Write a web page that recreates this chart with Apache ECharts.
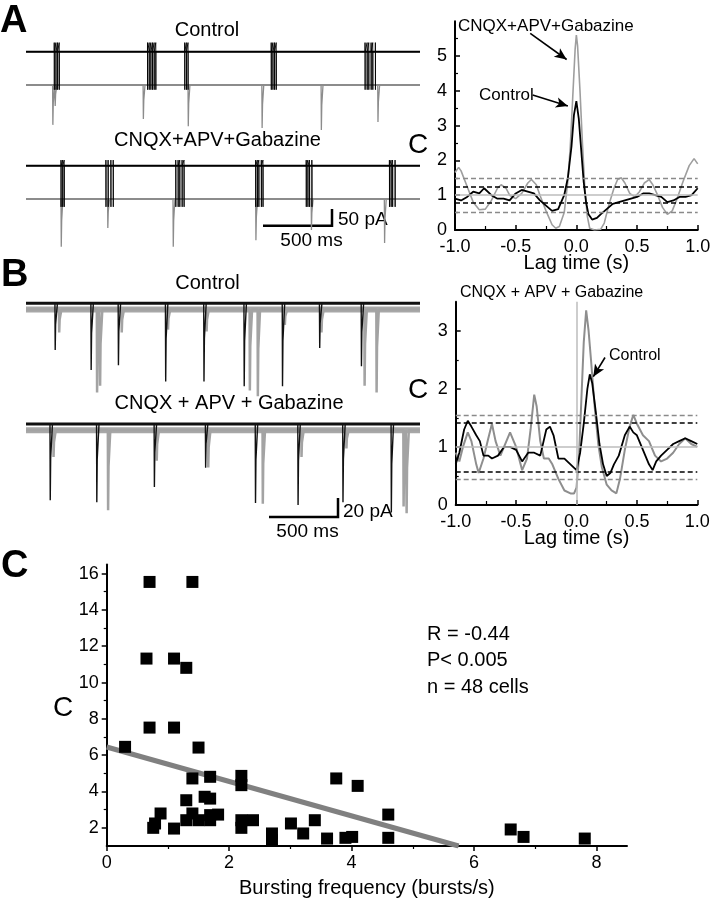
<!DOCTYPE html>
<html><head><meta charset="utf-8">
<script src="https://cdn.jsdelivr.net/npm/echarts@6/dist/echarts.min.js"></script>
<style>html,body{margin:0;padding:0;background:#fff}#c{width:711px;height:900px}</style>
</head><body><div id="c"></div>
<script>
// ================= DATA =================
// Panel A/B raw traces: times in ms, amplitudes in pA
const traceDurationMs = 2860;
// A, Control: black (spikes) and gray (synaptic currents)
const aCtrlSpikeT = [205,217,229,241, 882,894,906,918,930,942, 1152,1164,1176, 1780,1792,1804,1816, 2461,2476,2488,2505,2517,2536];
const aCtrlPscT = [193, 210, 850, 1176, 1712, 2142, 2553];
const aCtrlPscA = [127, 67, 108, 131, 137, 143, 118];
// A, CNQX+APV+Gabazine
const aDrugSpikeT = [254,266,277, 580,596,616,633, 1087,1104,1116,1133,1147, 1667,1679,1690,1708,1720, 2034,2046,2058,2075, 2638,2650,2661,2679];
const aDrugPscT = [254, 592, 1067, 1667, 2070, 2601];
const aDrugPscA = [152, 92, 152, 131, 99, 140];
const aBlackOffset = 106;      // pA offset of black trace
const aSpikeUp = [29, 18];     // spike overshoot (ctrl, drug)
const aSpikeDown = [-121, -131];
// B, Control
const bCtrlBlackT = [210, 471, 669, 1012, 1290, 1582, 1860, 2130, 2433];
const bCtrlBlackA = [49, 70, 65, 82, 82, 87, 87, 47, 66];
const bCtrlGrayT = [239, 514, 536, 693, 1029, 1309, 1623, 1681, 1877, 2143, 2456, 2543];
const bCtrlGrayA = [24, 87, 80, 24, 21, 23, 85, 91, 16, 24, 80, 87];
// B, CNQX + APV + Gabazine
const bDrugBlackT = [174, 512, 930, 1302, 1664, 1973, 2299, 2650];
const bDrugBlackA = [80, 82, 66, 46, 83, 85, 82, 93];
const bDrugGrayT = [198, 594, 947, 1321, 1717, 1998, 2324, 2739, 2761];
const bDrugGrayA = [28, 84, 32, 39, 77, 28, 19, 80, 87];
const bGrayOffset = -6.6;

// Cross-correlation, panel A
const lagAGabT = [-1.00,-0.97,-0.95,-0.90,-0.85,-0.80,-0.75,-0.70,-0.65,-0.62,-0.58,-0.55,-0.50,-0.45,-0.40,-0.37,-0.33,-0.30,-0.25,-0.20,-0.17,-0.14,-0.10,-0.07,-0.05,-0.03,-0.01,0.00,0.01,0.03,0.05,0.07,0.09,0.11,0.15,0.20,0.23,0.27,0.31,0.34,0.37,0.40,0.44,0.48,0.52,0.56,0.60,0.63,0.67,0.71,0.75,0.79,0.83,0.88,0.93,0.97,1.00];
const lagAGabC = [1.65,1.80,1.70,1.25,0.80,0.58,0.60,0.85,1.20,1.30,1.20,1.00,0.90,1.05,1.35,1.45,1.30,1.00,0.55,0.15,0.05,0.10,0.50,1.40,2.40,3.80,5.20,5.60,5.30,4.00,2.50,1.20,0.40,0.05,0.00,0.02,0.20,0.75,1.20,1.45,1.50,1.35,1.05,0.95,1.10,1.35,1.45,1.30,1.00,0.65,0.45,0.55,0.90,1.40,1.85,2.05,1.90];
const lagACtrlT = [-1.00,-0.95,-0.90,-0.85,-0.80,-0.76,-0.70,-0.65,-0.60,-0.55,-0.50,-0.45,-0.40,-0.35,-0.30,-0.25,-0.20,-0.15,-0.10,-0.07,-0.04,-0.02,0.00,0.02,0.04,0.06,0.08,0.10,0.13,0.17,0.20,0.25,0.30,0.35,0.40,0.45,0.50,0.55,0.60,0.65,0.70,0.75,0.80,0.85,0.90,0.95,1.00];
const lagACtrlC = [0.90,0.85,0.95,1.10,1.05,1.20,1.00,0.90,0.90,0.85,1.05,1.15,1.10,1.05,0.85,0.70,0.55,0.60,1.00,1.50,2.40,3.30,3.70,3.20,2.30,1.40,0.80,0.45,0.30,0.35,0.45,0.60,0.75,0.80,0.85,0.90,0.95,1.05,1.05,1.00,0.95,0.80,0.85,0.95,0.95,1.00,1.20];
const lagAOuter = [0.52, 1.48];
const lagAInner = [0.77, 1.24];
// Cross-correlation, panel B
const lagBGabT = [-1.00,-0.97,-0.94,-0.90,-0.87,-0.83,-0.81,-0.77,-0.73,-0.70,-0.67,-0.63,-0.60,-0.55,-0.50,-0.45,-0.41,-0.38,-0.35,-0.33,-0.30,-0.27,-0.23,-0.20,-0.15,-0.10,-0.05,-0.02,0.00,0.02,0.04,0.06,0.08,0.10,0.12,0.15,0.18,0.21,0.25,0.29,0.33,0.36,0.40,0.44,0.47,0.50,0.55,0.60,0.65,0.70,0.75,0.80,0.85,0.90,0.95,1.00];
const lagBGabC = [0.90,0.75,1.00,1.25,1.10,0.70,0.55,0.80,1.15,1.40,1.10,0.85,1.00,1.25,1.00,0.60,0.80,1.30,1.90,1.70,1.10,0.80,0.80,0.70,0.45,0.25,0.20,0.20,0.30,0.80,1.80,2.80,3.35,3.00,2.50,1.70,1.05,0.65,0.35,0.25,0.20,0.45,0.95,1.35,1.55,1.40,1.20,1.10,0.85,0.75,0.80,0.90,1.05,1.15,1.05,1.00];
const lagBCtrlT = [-1.00,-0.97,-0.93,-0.90,-0.87,-0.83,-0.80,-0.77,-0.73,-0.70,-0.65,-0.60,-0.55,-0.50,-0.45,-0.40,-0.35,-0.30,-0.25,-0.22,-0.19,-0.15,-0.10,-0.05,0.00,0.03,0.06,0.09,0.11,0.13,0.16,0.19,0.22,0.25,0.28,0.31,0.35,0.40,0.44,0.47,0.50,0.55,0.60,0.63,0.66,0.70,0.75,0.80,0.85,0.90,0.95,1.00];
const lagBCtrlC = [0.70,0.90,1.30,1.45,1.35,1.20,1.10,0.85,0.85,0.80,0.85,1.00,1.00,0.95,0.75,0.90,0.90,0.85,1.30,1.35,1.20,0.80,0.80,0.70,0.60,0.90,1.40,2.00,2.25,2.10,1.60,1.05,0.70,0.50,0.55,0.70,0.85,1.20,1.35,1.25,1.20,0.95,0.70,0.60,0.75,0.85,0.95,1.05,1.10,1.15,1.10,1.05];
const lagBOuter = [0.45, 1.55];
const lagBInner = [0.57, 1.42];
const lagAYTicks = [0, 1, 2, 3, 4, 5];
const lagBYTicks = [0, 1, 2, 3];

// Panel C scatter
const cFreq = [0.30,0.70,1.40,0.65,1.10,1.30,0.70,1.10,1.50,1.40,1.69,2.20,2.20,1.30,1.60,1.69,0.88,0.79,0.76,1.10,1.30,1.40,1.50,1.69,1.69,1.82,2.20,2.20,2.39,2.70,2.70,3.01,3.21,3.40,3.60,3.75,3.90,4.01,4.10,4.60,4.60,6.60,6.81,7.81];
const cCorr = [6.46,15.54,15.54,11.32,11.32,10.81,7.52,7.52,6.42,4.72,4.81,4.86,4.35,3.52,3.71,3.61,2.79,2.24,2.00,1.96,2.42,2.79,2.42,2.70,2.42,2.73,2.42,2.00,2.42,1.69,1.32,2.24,1.69,2.42,1.41,4.72,1.45,1.50,4.31,2.73,1.45,1.91,1.50,1.41];
const fitX = [0, 5.75];
const fitY = [6.45, 1.0];
const cXTicks = [0, 2, 4, 6, 8];
const cXMinor = [1, 3, 5, 7];
const cYTicks = [2, 4, 6, 8, 10, 12, 14, 16];
const cYMinor = [3, 5, 7, 9, 11, 13, 15];

// ================= BUILD =================
const FONT = "'Liberation Sans', Arial, sans-serif";
function zip(a, b) { return a.map((v, i) => [v, b[i]]); }
function flat(base) { return [[0, base], [traceDurationMs, base]]; }
function spikeTrace(base, times, up, down) {
  const d = [[0, base]];
  times.forEach(t => { d.push([t - 0.3, base], [t, base + up], [t + 0.6, base + down], [t + 1, base]); });
  d.push([traceDurationMs, base]);
  return d;
}
function pscTrace(base, times, amps, tail) {
  const d = [[0, base]];
  times.forEach((t, i) => {
    d.push([t, base], [t + 2, base - amps[i]], [t + 5, base - amps[i] * 0.45], [t + tail, base]);
  });
  d.push([traceDurationMs, base]);
  return d;
}
function half(arr) { const r = []; for (let i = 0; i < arr.length - 1; i++) r.push((arr[i] + arr[i + 1]) / 2); return r; }

const hidden = { show: false };
const traceGrids = [
  { left: 26, width: 394, top: 30, height: 110 },
  { left: 26, width: 394, top: 144, height: 110 },
  { left: 26, width: 394, top: 290, height: 115 },
  { left: 26, width: 394, top: 410, height: 115 }
];
const grids = traceGrids.concat([
  { left: 455, width: 242.7, top: 21.2, height: 208.8 },
  { left: 455.7, width: 241.6, top: 301.7, height: 203.3 },
  { left: 106.7, width: 520.3, top: 564.5, height: 281.5 }
]).map(g => Object.assign({ outerBoundsMode: 'none', containLabel: false }, g));
const traceY = [[-175.2, 175.2], [-175.2, 175.2], [-106.8, 14], [-106, 14.7]];

const axLine = { show: true, onZero: false, lineStyle: { color: '#000', width: 2 } };
const lbl = { color: '#000', fontSize: 18, fontFamily: FONT };

const xAxes = [0, 1, 2, 3].map(i => ({ type: 'value', gridIndex: i, min: 0, max: traceDurationMs, show: false }));
const yAxes = [0, 1, 2, 3].map(i => ({ type: 'value', gridIndex: i, min: traceY[i][0], max: traceY[i][1], show: false }));

function lagX(g) {
  return { type: 'value', gridIndex: g, min: -1, max: 1, interval: 0.5, position: 'bottom',
    axisLine: axLine, splitLine: hidden,
    axisTick: { show: true, inside: true, length: 5, lineStyle: { color: '#000', width: 1.5 } },
    minorTick: { show: true, splitNumber: 2, length: 4, lineStyle: { color: '#000', width: 1.2 } },
    axisLabel: Object.assign({ margin: 8, formatter: v => v.toFixed(1) }, lbl),
    name: 'Lag time (s)', nameLocation: 'middle', nameGap: 23, nameMoveOverlap: false,
    nameTextStyle: { color: '#000', fontSize: 20, fontFamily: FONT } };
}
function lagY(g, max, ticks) {
  const minor = half(ticks.concat([ticks[ticks.length - 1] + 1])).filter(v => v < max);
  return [
    { type: 'value', gridIndex: g, min: 0, max: max, position: 'left', axisLine: axLine, splitLine: hidden,
      axisTick: { show: true, inside: true, length: 5, customValues: ticks, lineStyle: { color: '#000', width: 1.5 } },
      axisLabel: Object.assign({ margin: 8, customValues: ticks }, lbl) },
    { type: 'value', gridIndex: g, min: 0, max: max, position: 'left', axisLine: { show: false, onZero: false }, splitLine: hidden,
      axisTick: { show: true, inside: true, length: 3, customValues: minor, lineStyle: { color: '#000', width: 1.2 } },
      axisLabel: { show: false } }
  ];
}
xAxes.push(lagX(4), lagX(5));
yAxes.push(...lagY(4, 6, lagAYTicks), ...lagY(5, 3.5, lagBYTicks));
// Panel C axes
xAxes.push(
  { type: 'value', gridIndex: 6, min: 0, max: 8.5, position: 'bottom', axisLine: axLine, splitLine: hidden,
    axisTick: { show: true, length: 5, customValues: cXTicks, lineStyle: { color: '#000', width: 1.5 } },
    axisLabel: Object.assign({ margin: 8, customValues: cXTicks }, lbl),
    name: 'Bursting frequency (bursts/s)', nameLocation: 'middle', nameGap: 32, nameMoveOverlap: false,
    nameTextStyle: { color: '#000', fontSize: 20, fontFamily: FONT } },
  { type: 'value', gridIndex: 6, min: 0, max: 8.5, position: 'bottom', axisLine: { show: false, onZero: false }, splitLine: hidden,
    axisTick: { show: true, length: 3, customValues: cXMinor, lineStyle: { color: '#000', width: 1.2 } },
    axisLabel: { show: false } }
);
yAxes.push(
  { type: 'value', gridIndex: 6, min: 1, max: 16.5, position: 'left', axisLine: axLine, splitLine: hidden,
    axisTick: { show: true, length: 5, customValues: cYTicks, lineStyle: { color: '#000', width: 1.5 } },
    axisLabel: Object.assign({ margin: 8, customValues: cYTicks }, lbl) },
  { type: 'value', gridIndex: 6, min: 1, max: 16.5, position: 'left', axisLine: { show: false, onZero: false }, splitLine: hidden,
    axisTick: { show: true, length: 3, customValues: cYMinor, lineStyle: { color: '#000', width: 1.2 } },
    axisLabel: { show: false } }
);
// yAxis indices: 0-3 traces, 4 lagA, 5 lagA minor, 6 lagB, 7 lagB minor, 8 C, 9 C minor

function line(xi, yi, data, color, width, extra) {
  return Object.assign({ type: 'line', xAxisIndex: xi, yAxisIndex: yi, data: data, showSymbol: false, symbol: 'none',
    lineStyle: { color: color, width: width }, itemStyle: { color: color }, silent: true }, extra || {});
}
function refLines(outer, inner, vertical) {
  const d = [];
  outer.forEach(v => d.push({ yAxis: v, lineStyle: { color: '#8a8a8a', type: [5, 3], width: 1.3 } }));
  inner.forEach(v => d.push({ yAxis: v, lineStyle: { color: '#000', type: [5, 3], width: 1.5 } }));
  d.push({ yAxis: 1, lineStyle: { color: '#bdbdbd', type: 'solid', width: 1.5 } });
  if (vertical) d.push({ xAxis: 0, lineStyle: { color: '#bdbdbd', type: 'solid', width: 1.5 } });
  return { symbol: 'none', silent: true, label: { show: false }, data: d };
}
function arrow(p1, p2) { return [{ coord: p1 }, { coord: p2 }]; }
const arrowML = (list) => ({ symbol: ['none', 'arrow'], symbolSize: [8, 12], silent: true, label: { show: false },
  lineStyle: { color: '#000', width: 1.6, type: 'solid' }, data: list });

const series = [
  // A traces
  line(0, 0, flat(0), '#8c8c8c', 2),
  line(0, 0, pscTrace(0, aCtrlPscT, aCtrlPscA, 14), '#8c8c8c', 1.3),
  line(0, 0, flat(aBlackOffset), '#000', 2),
  line(0, 0, spikeTrace(aBlackOffset, aCtrlSpikeT, aSpikeUp[0], aSpikeDown[0]), '#000', 0.9),
  line(1, 1, flat(0), '#8c8c8c', 2),
  line(1, 1, pscTrace(0, aDrugPscT, aDrugPscA, 14), '#8c8c8c', 1.3),
  line(1, 1, flat(aBlackOffset), '#000', 2),
  line(1, 1, spikeTrace(aBlackOffset, aDrugSpikeT, aSpikeUp[1], aSpikeDown[1]), '#000', 0.9),
  // B traces
  line(2, 2, flat(bGrayOffset), '#a8a8a8', 6),
  line(2, 2, pscTrace(bGrayOffset, bCtrlGrayT, bCtrlGrayA, 18), '#a3a3a3', 2.5),
  line(2, 2, flat(0), '#111', 3),
  line(2, 2, pscTrace(0, bCtrlBlackT, bCtrlBlackA, 18), '#111', 1.4),
  line(3, 3, flat(bGrayOffset), '#a8a8a8', 6),
  line(3, 3, pscTrace(bGrayOffset, bDrugGrayT, bDrugGrayA, 18), '#a3a3a3', 2.5),
  line(3, 3, flat(0), '#111', 3),
  line(3, 3, pscTrace(0, bDrugBlackT, bDrugBlackA, 18), '#111', 1.4),
  // Lag A
  line(4, 4, zip(lagAGabT, lagAGabC), '#9e9e9e', 1.6, { markLine: refLines(lagAOuter, lagAInner, false), z: 2 }),
  line(4, 4, zip(lagACtrlT, lagACtrlC), '#000', 1.8, { z: 3,
    markLine: arrowML([arrow([-0.38, 5.65], [-0.08, 4.9]), arrow([-0.36, 3.88], [-0.07, 3.56])]) }),
  // Lag B
  line(5, 6, zip(lagBGabT, lagBGabC), '#8e8e8e', 2, { markLine: refLines(lagBOuter, lagBInner, true), z: 2 }),
  line(5, 6, zip(lagBCtrlT, lagBCtrlC), '#000', 1.8, { z: 3,
    markLine: arrowML([arrow([-0.385, 3.53], [0.048, 3.2]), arrow([0.236, 2.54], [0.139, 2.21])]) }),
  // Panel C
  line(6, 8, zip(fitX, fitY), '#808080', 5, { z: 2 }),
  { type: 'scatter', xAxisIndex: 6, yAxisIndex: 8, data: zip(cFreq, cCorr), symbol: 'rect', symbolSize: 12,
    itemStyle: { color: '#000', opacity: 1 }, z: 3, silent: true }
];

function txt(x, y, text, size, opts) {
  return { type: 'text', x: x, y: y, silent: true,
    style: Object.assign({ text: text, font: size + 'px ' + FONT, fill: '#000', align: 'center', verticalAlign: 'middle' }, opts || {}) };
}
function bar(points) {
  return { type: 'polyline', silent: true, shape: { points: points }, style: { stroke: '#000', lineWidth: 2.5, fill: null } };
}
const graphic = [
  txt(0, 22, 'A', 38, { font: 'bold 38px ' + FONT, align: 'left' }),
  txt(1, 276, 'B', 38, { font: 'bold 38px ' + FONT, align: 'left' }),
  txt(1, 567, 'C', 38, { font: 'bold 38px ' + FONT, align: 'left' }),
  txt(207, 30, 'Control', 20),
  txt(217.5, 140, 'CNQX+APV+Gabazine', 20),
  bar([[263, 225.7], [332, 225.7], [332, 209]]),
  txt(338, 220, '50 pA', 19, { align: 'left' }),
  txt(311.5, 241, '500 ms', 19),
  txt(207.5, 283, 'Control', 20),
  txt(229, 403, 'CNQX + APV + Gabazine', 20),
  bar([[269, 517], [338, 517], [338, 498]]),
  txt(343, 512, '20 pA', 19, { align: 'left' }),
  txt(307.5, 532, '500 ms', 19),
  txt(458, 26, 'CNQX+APV+Gabazine', 17, { align: 'left' }),
  txt(479, 95, 'Control', 17, { align: 'left' }),
  txt(460, 293, 'CNQX + APV + Gabazine', 16, { align: 'left' }),
  txt(609, 356, 'Control', 16, { align: 'left' }),
  txt(418, 145, 'C', 28),
  txt(418, 390, 'C', 28),
  txt(63, 708, 'C', 28),
  txt(427, 634, 'R = -0.44', 20, { align: 'left' }),
  txt(427, 660, 'P< 0.005', 20, { align: 'left' }),
  txt(427, 687, 'n = 48 cells', 20, { align: 'left' })
];

const chart = echarts.init(document.getElementById('c'), null, { renderer: 'canvas' });
chart.setOption({
  animation: false,
  backgroundColor: '#fff',
  grid: grids,
  xAxis: xAxes,
  yAxis: yAxes,
  series: series,
  graphic: graphic
});
</script></body></html>
